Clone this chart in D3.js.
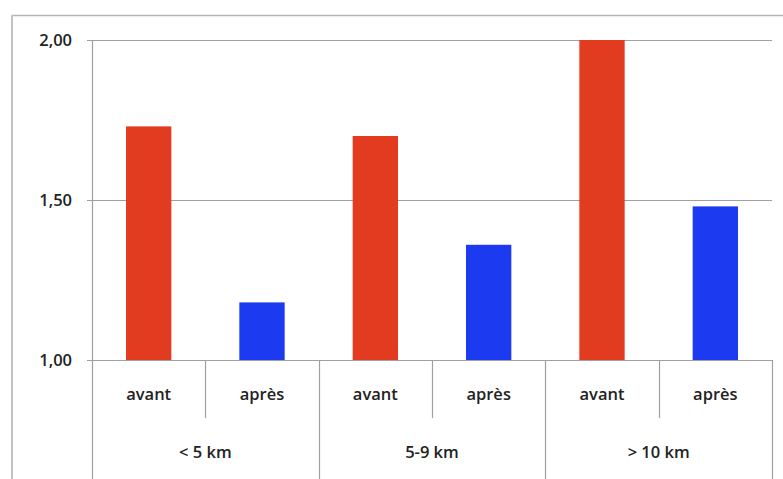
<!DOCTYPE html>
<html>
<head>
<meta charset="utf-8">
<script src="https://cdn.jsdelivr.net/npm/d3@7"></script>
<style>
  html, body { margin: 0; padding: 0; background: #fff; }
  svg { display: block; }
  text { font-family: "Open Sans", "DejaVu Sans", sans-serif; fill: #222; }
</style>
</head>
<body>
<svg id="chart" width="783" height="479"></svg>
<script>
// Distance groups, periods within each group, and the values per bar
const groups = ["< 5 km", "5-9 km", "> 10 km"];
const periods = ["avant", "après"];
const valuesAvant = [1.73, 1.70, 2.00];
const valuesApres = [1.18, 1.36, 1.48];
const yTicks = [1.00, 1.50, 2.00];
const periodColors = ["#e13b20", "#1c3bf0"];

(function () {
  const svg = d3.select("#chart");
  const W = 783, H = 479;
  const plotLeft = 92, plotRight = 772, plotTop = 40, plotBase = 360;
  const fontSize = 16.5;

  // Outer frame (top and left edges)
  svg.append("line").attr("x1", 12).attr("x2", W).attr("y1", 15.5).attr("y2", 15.5)
    .attr("stroke", "#b5b5b5").attr("stroke-width", 1.5);
  svg.append("line").attr("x1", 12).attr("x2", 12).attr("y1", 15).attr("y2", H)
    .attr("stroke", "#c2c2c2").attr("stroke-width", 2);

  // Flattened bar list: one bar per (group, period)
  const bars = [];
  groups.forEach((g, gi) => {
    bars.push({ key: g + "|" + periods[0], period: periods[0], value: valuesAvant[gi], pi: 0 });
    bars.push({ key: g + "|" + periods[1], period: periods[1], value: valuesApres[gi], pi: 1 });
  });

  const x = d3.scaleBand().domain(bars.map(d => d.key)).range([plotLeft, plotRight])
    .paddingInner(0.6).paddingOuter(0.3);
  const xg = d3.scaleBand().domain(groups).range([plotLeft, plotRight]);
  const y = d3.scaleLinear().domain([1, 2]).range([plotBase, plotTop]);

  // Horizontal gridlines and left ticks
  svg.append("g").selectAll("line").data(yTicks).join("line")
    .attr("x1", plotLeft - 5).attr("x2", plotRight)
    .attr("y1", d => Math.round(y(d)) + 0.5).attr("y2", d => Math.round(y(d)) + 0.5)
    .attr("stroke", "#a0a0a0").attr("stroke-width", 1.2);

  // Value axis line
  svg.append("line").attr("x1", plotLeft + 0.5).attr("x2", plotLeft + 0.5)
    .attr("y1", y(2)).attr("y2", H).attr("stroke", "#a0a0a0").attr("stroke-width", 1.2);

  // Tick labels
  const fmt = d => d3.format(".2f")(d).replace(".", ",");
  svg.append("g").selectAll("text").data(yTicks).join("text")
    .attr("x", 72).attr("y", d => y(d)).attr("dy", "0.35em")
    .attr("text-anchor", "end").attr("font-size", fontSize).attr("font-weight", 600)
    .text(fmt);

  // Bars
  svg.append("g").selectAll("rect").data(bars).join("rect")
    .attr("x", d => x(d.key)).attr("width", x.bandwidth())
    .attr("y", d => y(d.value)).attr("height", d => y(1) - y(d.value))
    .attr("fill", d => periodColors[d.pi]);

  // Category dividers below the baseline
  const subDividers = groups.map(g => xg(g) + xg.bandwidth() / 2);
  svg.append("g").selectAll("line").data(subDividers).join("line")
    .attr("x1", d => Math.round(d) + 0.5).attr("x2", d => Math.round(d) + 0.5)
    .attr("y1", plotBase).attr("y2", 418)
    .attr("stroke", "#a0a0a0").attr("stroke-width", 1.2);
  const groupDividers = groups.map(g => xg(g) + xg.bandwidth());
  svg.append("g").selectAll("line").data(groupDividers).join("line")
    .attr("x1", d => Math.round(d) + 0.5).attr("x2", d => Math.round(d) + 0.5)
    .attr("y1", plotBase).attr("y2", H)
    .attr("stroke", "#a0a0a0").attr("stroke-width", 1.2);

  // Period labels
  svg.append("g").selectAll("text").data(bars).join("text")
    .attr("x", d => x(d.key) + x.bandwidth() / 2).attr("y", 394).attr("dy", "0.35em")
    .attr("text-anchor", "middle").attr("font-size", fontSize).attr("font-weight", 600)
    .text(d => d.period);

  // Group labels
  svg.append("g").selectAll("text").data(groups).join("text")
    .attr("x", d => xg(d) + xg.bandwidth() / 2).attr("y", 452).attr("dy", "0.35em")
    .attr("text-anchor", "middle").attr("font-size", fontSize).attr("font-weight", 600)
    .text(d => d);
})();
</script>
</body>
</html>
